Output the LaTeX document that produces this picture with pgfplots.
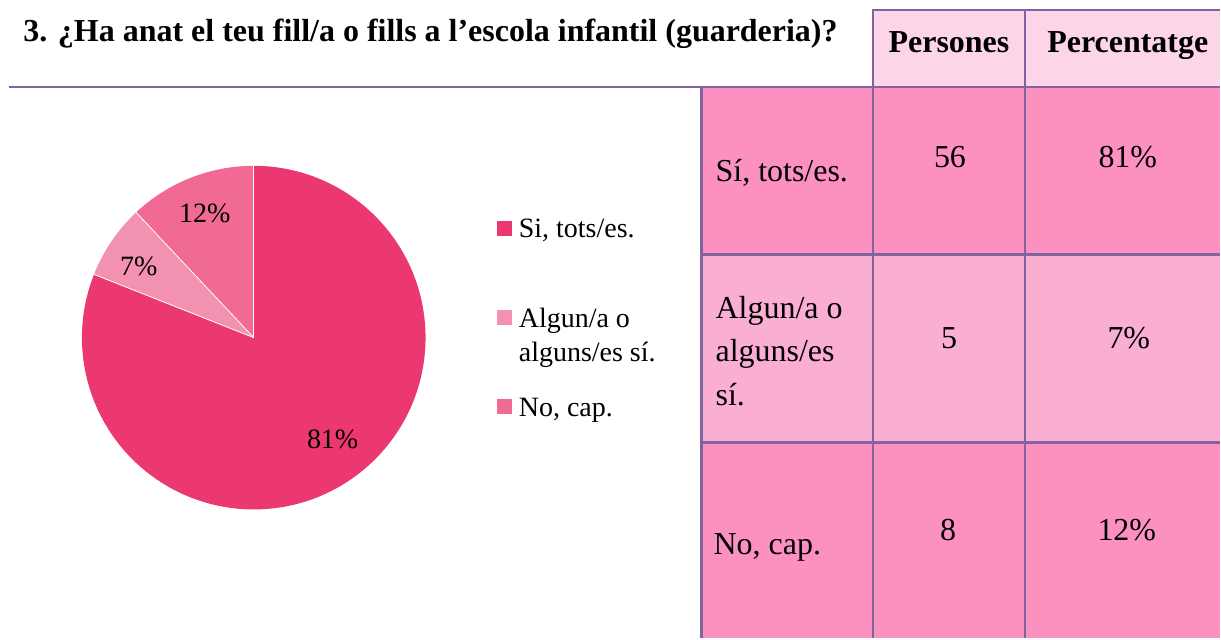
\documentclass[border=0pt]{standalone}
\usepackage{pgfplots}
\pgfplotsset{compat=1.18}
\usepackage{fontspec}
\setmainfont{Liberation Serif}
\definecolor{cmain}{HTML}{EC3870}
\definecolor{csome}{HTML}{F291B0}
\definecolor{cnone}{HTML}{F06A94}
\definecolor{chead}{HTML}{FDD5E8}
\definecolor{crowa}{HTML}{FC91BF}
\definecolor{crowb}{HTML}{F9AED2}
\definecolor{cline}{HTML}{8064A2}
\newcommand{\fs}[1]{\fontsize{#1}{1.2\dimexpr#1\relax}\selectfont}
\begin{document}
\begin{tikzpicture}
\begin{axis}[
  width=610.5pt, height=319.5pt, scale only axis,
  xmin=0, xmax=1221, ymin=0, ymax=639, y dir=reverse,
  hide axis, clip=false,
]
\path (axis cs:0,0) rectangle (axis cs:1221,639);
% ---- pie (percentages 81, 7, 12; clockwise from top) ----
\fill[cmain] (axis cs:254,338) -- ++(90:86pt) arc[start angle=90, end angle={90-81*3.6}, radius=86pt] -- cycle;
\fill[csome] (axis cs:254,338) -- ++({90-81*3.6}:86pt) arc[start angle={90-81*3.6}, end angle={90-88*3.6}, radius=86pt] -- cycle;
\fill[cnone] (axis cs:254,338) -- ++({90-88*3.6}:86pt) arc[start angle={90-88*3.6}, end angle={90-100*3.6}, radius=86pt] -- cycle;
\draw[white, line width=0.4pt] (axis cs:254,338) -- ++(90:86pt);
\draw[white, line width=0.4pt] (axis cs:254,338) -- ++({90-81*3.6}:86pt);
\draw[white, line width=0.4pt] (axis cs:254,338) -- ++({90-88*3.6}:86pt);
\node[anchor=base, font=\fs{14pt}, inner sep=0] at (axis cs:333,449) {81\%};
\node[anchor=base, font=\fs{14pt}, inner sep=0] at (axis cs:139,276) {7\%};
\node[anchor=base, font=\fs{14pt}, inner sep=0] at (axis cs:205,223) {12\%};
% ---- legend ----
\fill[cmain] (axis cs:498,221) rectangle (axis cs:513,236);
\fill[csome] (axis cs:498,310) rectangle (axis cs:513,325);
\fill[cnone] (axis cs:498,399) rectangle (axis cs:513,414);
\node[anchor=base west, font=\fs{14pt}, inner sep=0] at (axis cs:519,238) {Si, tots/es.};
\node[anchor=base west, font=\fs{14pt}, inner sep=0] at (axis cs:519,328) {Algun/a o};
\node[anchor=base west, font=\fs{14pt}, inner sep=0] at (axis cs:519,362) {alguns/es sí.};
\node[anchor=base west, font=\fs{14pt}, inner sep=0] at (axis cs:519,417) {No, cap.};
% ---- table fills ----
\fill[chead] (axis cs:873,10) rectangle (axis cs:1221,87);
\fill[crowa] (axis cs:702,87) rectangle (axis cs:1221,255);
\fill[crowb] (axis cs:702,255) rectangle (axis cs:1221,443);
\fill[crowa] (axis cs:702,443) rectangle (axis cs:1221,639);
% ---- table lines ----
\begin{scope}[cline, line width=1.3pt]
\draw (axis cs:873,10) -- (axis cs:1221,10);
\draw (axis cs:9,87) -- (axis cs:1221,87);
\draw (axis cs:702,255) -- (axis cs:1221,255);
\draw (axis cs:702,443) -- (axis cs:1221,443);
\draw (axis cs:702,87) -- (axis cs:702,639);
\draw (axis cs:874,10) -- (axis cs:874,639);
\draw (axis cs:1026,10) -- (axis cs:1026,639);
\end{scope}
% ---- title and header ----
\node[anchor=base west, font=\fs{16pt}\bfseries, inner sep=0] at (axis cs:23,42) {3. ¿Ha anat el teu fill/a o fills a l’escola infantil (guarderia)?};
\node[anchor=base, font=\fs{16pt}\bfseries, inner sep=0] at (axis cs:950,53) {Persones};
\node[anchor=base, font=\fs{16pt}\bfseries, inner sep=0] at (axis cs:1129,53) {Percentatge};
% ---- table body ----
\node[anchor=base west, font=\fs{16pt}, inner sep=0] at (axis cs:716,182) {Sí, tots/es.};
\node[anchor=base, font=\fs{16pt}, inner sep=0] at (axis cs:951,168) {56};
\node[anchor=base, font=\fs{16pt}, inner sep=0] at (axis cs:1129,168) {81\%};
\node[anchor=base west, font=\fs{16pt}, inner sep=0] at (axis cs:716,319) {Algun/a o};
\node[anchor=base west, font=\fs{16pt}, inner sep=0] at (axis cs:716,362) {alguns/es};
\node[anchor=base west, font=\fs{16pt}, inner sep=0] at (axis cs:716,406) {sí.};
\node[anchor=base, font=\fs{16pt}, inner sep=0] at (axis cs:950,349) {5};
\node[anchor=base, font=\fs{16pt}, inner sep=0] at (axis cs:1130,349) {7\%};
\node[anchor=base west, font=\fs{16pt}, inner sep=0] at (axis cs:714,555) {No, cap.};
\node[anchor=base, font=\fs{16pt}, inner sep=0] at (axis cs:949,541) {8};
\node[anchor=base, font=\fs{16pt}, inner sep=0] at (axis cs:1128,541) {12\%};
\end{axis}
\end{tikzpicture}
\end{document}
